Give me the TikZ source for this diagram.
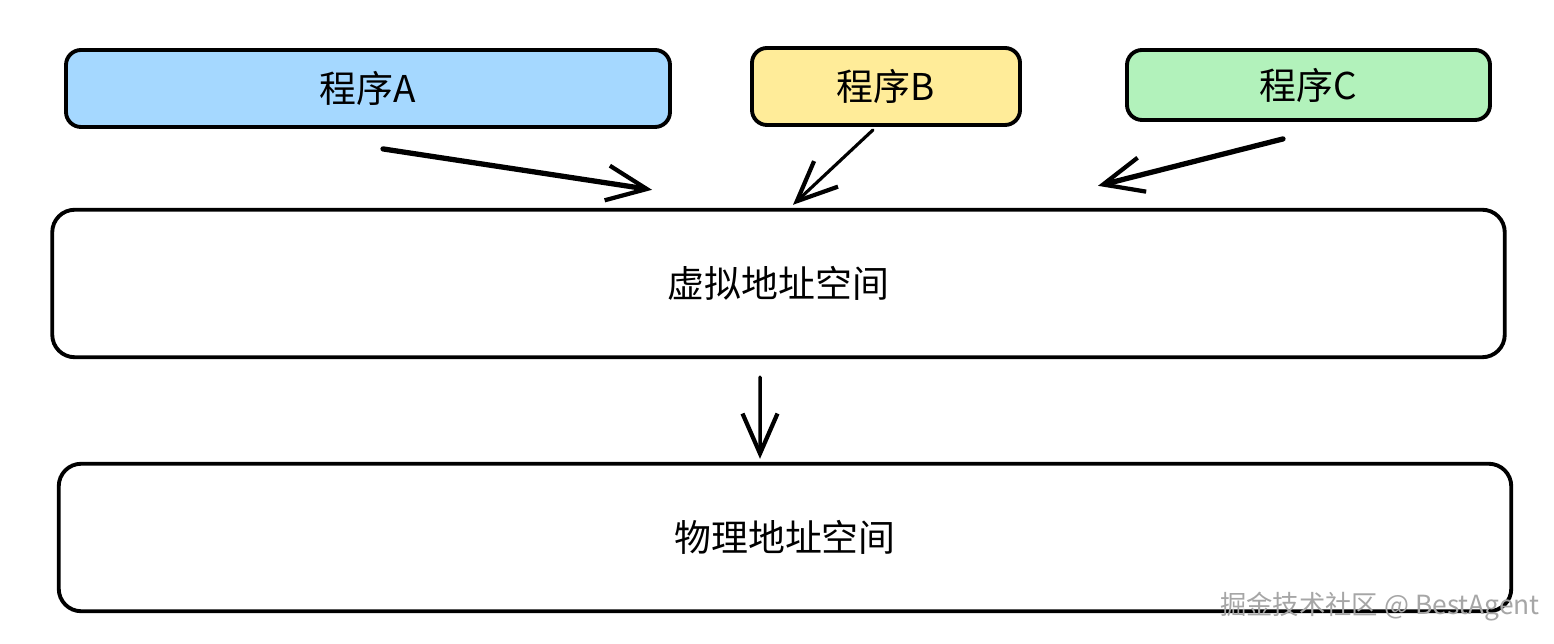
\documentclass[tikz,border=0pt]{standalone}
\usepackage{fontspec}
\setmainfont{Noto Sans CJK SC}
\usepackage{xcolor}
\usetikzlibrary{
    arrows.meta,
    shapes,
    positioning,
    calc
}
\definecolor{progA}{HTML}{A5D8FF}
\definecolor{progB}{HTML}{FFEC99}
\definecolor{progC}{HTML}{B2F2BB}

\begin{document}
\begin{tikzpicture}[
        prog/.style = {draw, line width = 2.2pt, rounded corners = .3cm, inner sep = 0pt,
                       minimum height = 1.54cm, font = \fontsize{21}{25}\selectfont},
        space/.style = {draw, line width = 2.2pt, rounded corners = .45cm, fill = white,
                        minimum width = 29.05cm, minimum height = 2.95cm, font = \fontsize{21}{25}\selectfont},
        link/.style = {line width = 3pt, line cap = round,
                       -{Straight Barb[length = .8cm, width = .7cm, line width = 2.4pt]}}
    ]
                \useasboundingbox (0, 0) rectangle (31.08, 12.88);
                \node [prog, fill = progA, minimum width = 12.08cm] (progA) at (7.36, 11.11) {程序A};
                \node [prog, fill = progB, minimum width = 5.36cm] (progB) at (17.72, 11.15) {程序B};
                \node [prog, fill = progC, minimum width = 7.26cm, minimum height = 1.4cm] (progC) at (26.17, 11.18) {程序C};
                \node [space] (virt) at (15.57, 7.21) {虚拟地址空间};
                \node [space] (phys) at (15.7, 2.13) {物理地址空间};
                \draw [link] ([shift = {(.3, -.4)}] progA.south) -- ([shift = {(-2.53, .36)}] virt.north);
                \draw [link, line width = 1.8pt] ([shift = {(-.26, -.06)}] progB.south) -- ([shift = {(.29, .06)}] virt.north);
                \draw [link] ([shift = {(-.51, -.34)}] progC.south) -- ([shift = {(6.39, .44)}] virt.north);
                \draw [link, line width = 2pt] ([shift = {(-.37, -.36)}] virt.south) -- ([shift = {(-.5, .06)}] phys.north);
                \node [text = gray!70, font = \fontsize{15}{18}\selectfont] (mark) at (27.6, .74) {掘金技术社区 @ BestAgent};
\end{tikzpicture}
\end{document}
